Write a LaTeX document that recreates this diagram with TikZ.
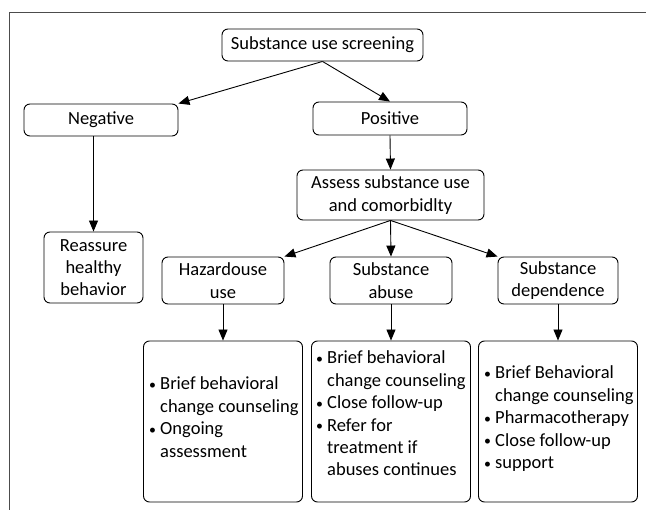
\documentclass[tikz,border=0pt]{standalone}
\usepackage{fontspec}
\setmainfont{Carlito}
\usetikzlibrary{arrows.meta}
\newcommand{\bitem}[1]{\makebox[14pt][l]{\hspace{3pt}\raisebox{0.5pt}{\scalebox{0.75}{\textbullet}}}#1}
\newcommand{\bcont}[1]{\hspace*{14pt}#1}
\begin{document}
\begin{tikzpicture}[x=1pt,y=-1pt,
  box/.style={draw, rounded corners=6pt, line width=0.9pt, align=center,
    font=\fontsize{18.5}{22.3}\selectfont, inner sep=0pt},
  listbox/.style={draw, rounded corners=6pt, line width=0.9pt, inner sep=0pt,
    minimum width=159pt, minimum height=161pt},
  listtext/.style={anchor=base west, inner sep=0pt,
    font=\fontsize{18.5}{22.4}\selectfont},
  arr/.style={-{Triangle[length=11pt,width=9pt]}, line width=0.9pt},
  frameline/.style={line width=1pt, black!70}]
\useasboundingbox (0,0) rectangle (646,510);
\coordinate (fb) at (9.5,510);
\coordinate (fc) at (9.5,13);
\coordinate (fr) at (646,13);
\draw[frameline] (fb) -- (fc) -- (fr);

\node[box, minimum width=201pt, minimum height=32pt] (scr) at (322.5,45) {Substance use screening};
\node[box, minimum width=154pt, minimum height=32pt] (neg) at (101,120) {Negative};
\node[box, minimum width=154pt, minimum height=33pt] (pos) at (390,118.5) {Positive};
\node[box, minimum width=187pt, minimum height=50pt] (ass) at (390.5,195) {Assess substance use\\and comorbidlty};
\node[box, minimum width=99pt, minimum height=71pt] (rea) at (93.5,267.5) {Reassure\\healthy\\behavior};
\node[box, minimum width=122pt, minimum height=47pt] (haz) at (223,280.5) {Hazardouse\\use};
\node[box, minimum width=122pt, minimum height=47pt] (abu) at (391,280.5) {Substance\\abuse};
\node[box, minimum width=120pt, minimum height=47pt] (dep) at (558,280.5) {Substance\\dependence};

\node[listbox] (hzl) at (223,421.5) {};
\node[listbox] (abl) at (391,421.5) {};
\node[listbox] (dpl) at (558,421.5) {};

\node[listtext] (hzt) at (146,390) {\begin{tabular}[t]{@{}l@{}}\bitem{Brief behavioral}\\\bcont{change counseling}\\\bitem{Ongoing}\\\bcont{assessment}\end{tabular}};
\node[listtext] (abt) at (313,364) {\begin{tabular}[t]{@{}l@{}}\bitem{Brief behavioral}\\\bcont{change counseling}\\\bitem{Close follow-up}\\\bitem{Refer for}\\\bcont{treatment if}\\\bcont{abuses continues}\end{tabular}};
\node[listtext] (dpt) at (481,379) {\begin{tabular}[t]{@{}l@{}}\bitem{Brief Behavioral}\\\bcont{change counseling}\\\bitem{Pharmacotherapy}\\\bitem{Close follow-up}\\\bitem{support}\end{tabular}};

\draw[arr] (scr.south) -- (neg.north east);
\draw[arr] (scr.south) -- (pos.north);
\draw[arr] (neg.south -| rea.north) -- (rea.north);
\draw[arr] (pos.south) -- (ass.north);
\draw[arr] (ass.south) -- (haz.north east);
\draw[arr] (ass.south) -- (abu.north);
\draw[arr] (ass.south) -- (dep.north west);
\draw[arr] (haz.south) -- (hzl.north);
\draw[arr] (abu.south) -- (abl.north);
\draw[arr] (dep.south) -- (dpl.north);
\end{tikzpicture}
\end{document}
